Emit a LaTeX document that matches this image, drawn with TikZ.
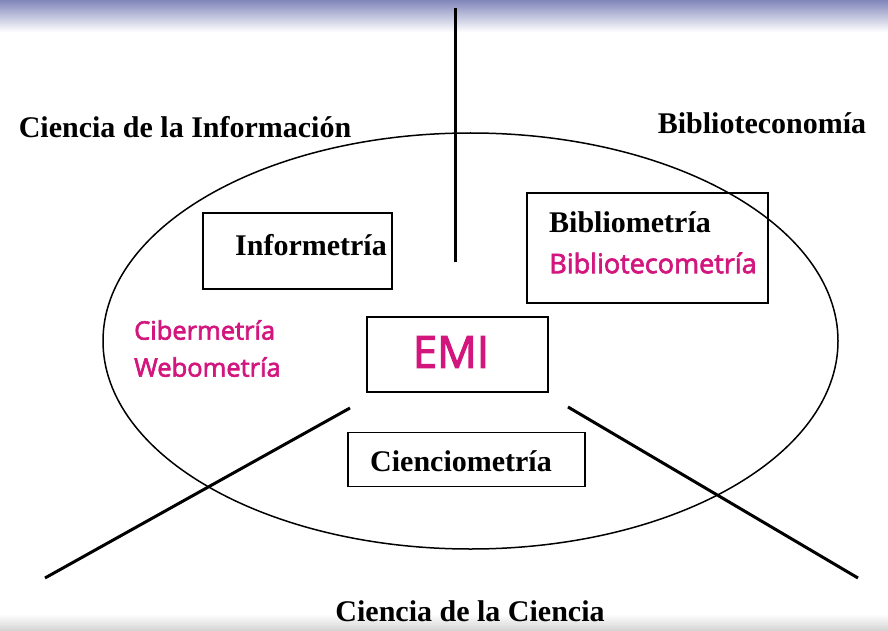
\documentclass[tikz,border=0pt]{standalone}
\usepackage{fontspec}
\setmainfont{Liberation Serif}
\newfontfamily\magfont{Open Sans}[FakeBold=2.5]
\usetikzlibrary{shapes.geometric}
\definecolor{emiMagenta}{RGB}{210,22,126}
\definecolor{topBand}{RGB}{128,134,186}
\definecolor{bottomBand}{RGB}{210,210,210}

\begin{document}
\begin{tikzpicture}[x=1pt,y=1pt,yscale=-1,
  fieldlabel/.style={font=\bfseries\fontsize{30}{32}\selectfont, inner sep=0pt},
  metriclabel/.style={font=\magfont\fontsize{25.5}{30}\selectfont, text=emiMagenta, inner sep=0pt},
  metricbox/.style={draw, line width=1.8pt, inner sep=0pt},
  divider/.style={line width=3pt}]
\useasboundingbox (0,0) rectangle (888,631);

%Shape: Band top and bottom
\shade [top color=topBand, bottom color=white] (0,0) rectangle (888,32);
\shade [top color=white, bottom color=bottomBand] (0,614) rectangle (888,631);

%Shape: Ellipse
\node (field) [ellipse, draw, line width=1.5pt, minimum width=735, minimum height=416, inner sep=0pt] at (470.5,341) {};

%Shape: Rectangles
\node (infobox) [metricbox, minimum width=189, minimum height=76] at (297.5,251) {};
\node (bibliobox) [metricbox, minimum width=241, minimum height=110] at (647.5,248) {};
\node (emibox) [metricbox, minimum width=181, minimum height=75] at (457.5,354.5) {};
\node (cienciobox) [metricbox, minimum width=237, minimum height=54] at (466.5,459.5) {};

%Straight Lines
\coordinate (topend) at (455,8);
\coordinate (topstop) at (455,262);
\coordinate (leftstart) at (350,408);
\coordinate (leftend) at (45,578);
\coordinate (rightstart) at (568,407);
\coordinate (rightend) at (858,578);
\draw [divider] (topend) -- (topstop);
\draw [divider] (leftstart) -- (leftend);
\draw [divider] (rightstart) -- (rightend);

% Text Node
\node (cinfo) [fieldlabel] at (185,127) {Ciencia de la Información};
% Text Node
\node (bibliotec) [fieldlabel] at (762,123) {Biblioteconomía};
% Text Node
\node (cciencia) [fieldlabel] at (470,611) {Ciencia de la Ciencia};
% Text Node
\node (informetria) [fieldlabel] at (311,245) {Informetría};
% Text Node
\node (bibliometria) [fieldlabel] at (630,222) {Bibliometría};
% Text Node
\node (bibliotecometria) [metriclabel, font=\magfont\fontsize{27}{30}\selectfont] at (653,263) {Bibliotecometría};
% Text Node
\node (cibermetria) [metriclabel, anchor=west] at (134,330) {Cibermetría};
% Text Node
\node (webometria) [metriclabel, anchor=west] at (134,367) {Webometría};
% Text Node
\node (emi) [metriclabel, font=\magfont\fontsize{44}{48}\selectfont] at (451,352) {EMI};
% Text Node
\node (cienciometria) [fieldlabel] at (461,461) {Cienciometría};

\end{tikzpicture}
\end{document}
